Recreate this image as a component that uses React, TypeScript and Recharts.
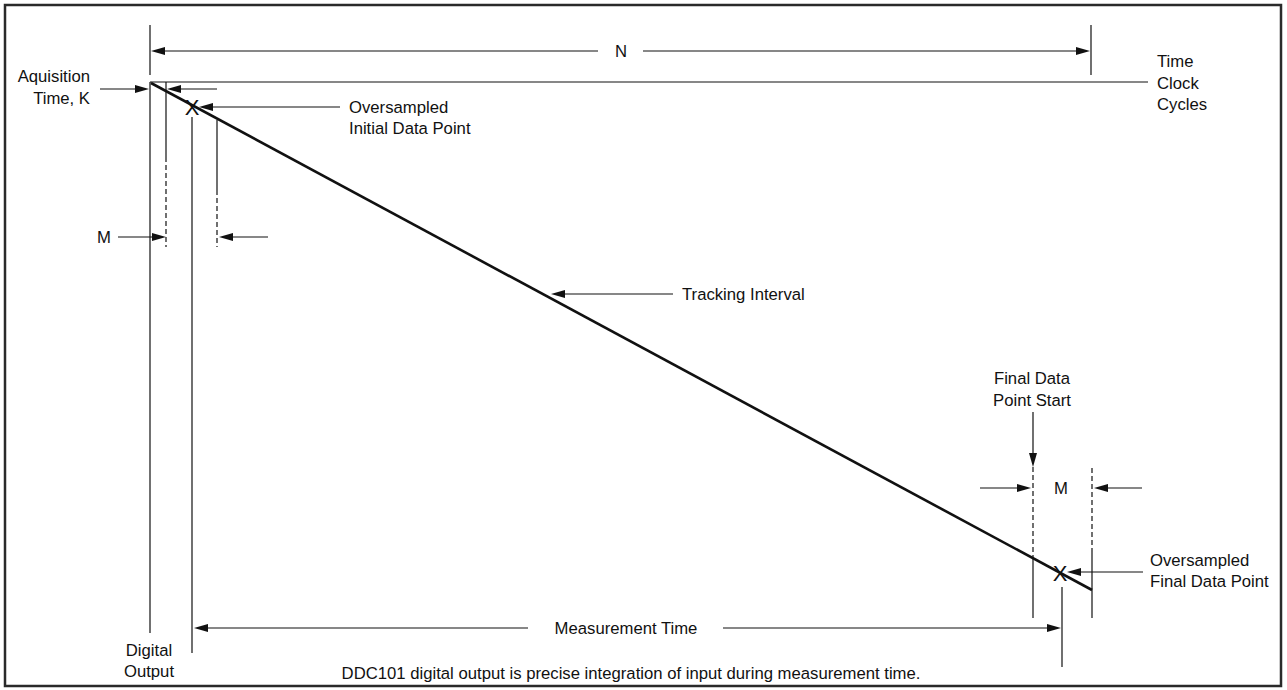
import React from 'react';
import { ComposedChart, Line, XAxis, YAxis, ReferenceLine, ReferenceDot, ReferenceArea } from 'recharts';

const W = 1287;
const H = 690;
const FONT = '"Liberation Sans", Arial, Helvetica, sans-serif';
const INK = '#111';

// outer frame of the figure
const frame = { x1: 5, x2: 1281, y1: 5, y2: 686 };

// the tracking ramp (digital output vs. time clock cycles)
const ramp = [
  { x: 151, y: 83 },
  { x: 1092, y: 590 },
];

// plain solid guide lines: [x1, y1, x2, y2]
const solidLines = [
  [150, 25, 150, 75],
  [1091, 25, 1091, 75],
  [150, 82, 1148, 82],
  [150, 82, 150, 633],
  [166, 82, 166, 157],
  [192, 117, 192, 653],
  [217, 120, 217, 190],
  [1033, 557, 1033, 618],
  [1092, 552, 1092, 618],
  [1062, 587, 1062, 667],
];

// dashed guide lines
const dashedLines = [
  [166, 157, 166, 247],
  [217, 190, 217, 247],
  [1033, 467, 1033, 557],
  [1092, 468, 1092, 552],
];

// arrows, tail -> tip
const arrows = [
  [598, 51, 151, 51],
  [643, 51, 1090, 51],
  [100, 89, 149, 89],
  [217, 89, 167, 89],
  [340, 107, 199, 107],
  [118, 237, 166, 237],
  [268, 237, 219, 237],
  [673, 294, 551, 294],
  [1033, 412, 1033, 467],
  [980, 488, 1031, 488],
  [1142, 488, 1094, 488],
  [1143, 572, 1067, 572],
  [528, 628, 194, 628],
  [723, 628, 1061, 628],
];

// oversampled data points
const samples = [
  { x: 192, y: 107 },
  { x: 1060, y: 573 },
];

const labels = [
  { t: 'N', x: 621, y: 51, a: 'middle' },
  { t: 'Aquisition', x: 90, y: 76, a: 'end' },
  { t: 'Time, K', x: 90, y: 98, a: 'end' },
  { t: 'Time', x: 1157, y: 61, a: 'start' },
  { t: 'Clock', x: 1157, y: 83, a: 'start' },
  { t: 'Cycles', x: 1157, y: 104, a: 'start' },
  { t: 'Oversampled', x: 349, y: 107, a: 'start' },
  { t: 'Initial Data Point', x: 349, y: 128, a: 'start' },
  { t: 'M', x: 104, y: 237, a: 'middle' },
  { t: 'Tracking Interval', x: 682, y: 294, a: 'start' },
  { t: 'Final Data', x: 1032, y: 378, a: 'middle' },
  { t: 'Point Start', x: 1032, y: 400, a: 'middle' },
  { t: 'M', x: 1061, y: 488, a: 'middle' },
  { t: 'Oversampled', x: 1150, y: 560, a: 'start' },
  { t: 'Final Data Point', x: 1150, y: 581, a: 'start' },
  { t: 'Measurement Time', x: 626, y: 628, a: 'middle' },
  { t: 'Digital', x: 149, y: 650, a: 'middle' },
  { t: 'Output', x: 149, y: 671, a: 'middle' },
  { t: 'DDC101 digital output is precise integration of input during measurement time.', x: 631, y: 673, a: 'middle' },
];

const ArrowShape = (p: any) => {
  const { x1, y1, x2, y2 } = p;
  const dx = x2 - x1;
  const dy = y2 - y1;
  const len = Math.hypot(dx, dy) || 1;
  const ux = dx / len;
  const uy = dy / len;
  const L = 14;
  const hw = 4;
  const bx = x2 - ux * L;
  const by = y2 - uy * L;
  const pts = `${x2},${y2} ${bx - uy * hw},${by + ux * hw} ${bx + uy * hw},${by - ux * hw}`;
  return (
    <g>
      <line x1={x1} y1={y1} x2={bx} y2={by} stroke={INK} strokeWidth={1.2} />
      <polygon points={pts} fill={INK} />
    </g>
  );
};

const seg = (s: number[]) => [
  { x: s[0], y: s[1] },
  { x: s[2], y: s[3] },
];

export default function App() {
  return (
    <div style={{ position: 'absolute', left: 0, top: 0, width: W, height: H, background: '#fff' }}>
      <ComposedChart width={W} height={H} data={ramp} margin={{ top: 0, right: 0, bottom: 0, left: 0 }} style={{ fontFamily: FONT }}>
        <XAxis dataKey="x" type="number" domain={[0, W]} hide allowDataOverflow />
        <YAxis type="number" domain={[0, H]} reversed hide allowDataOverflow />

        <ReferenceArea
          x1={frame.x1}
          x2={frame.x2}
          y1={frame.y1}
          y2={frame.y2}
          fill="none"
          fillOpacity={0}
          stroke="#2a2a2a"
          strokeWidth={2.5}
          ifOverflow="visible"
        />

        {solidLines.map((s, i) => (
          <ReferenceLine key={`s${i}`} segment={seg(s)} stroke={INK} strokeWidth={1.2} ifOverflow="visible" />
        ))}
        {dashedLines.map((s, i) => (
          <ReferenceLine key={`d${i}`} segment={seg(s)} stroke={INK} strokeWidth={1.2} strokeDasharray="5 3" ifOverflow="visible" />
        ))}
        {arrows.map((s, i) => (
          <ReferenceLine key={`a${i}`} segment={seg(s)} stroke={INK} ifOverflow="visible" shape={(p: any) => <ArrowShape {...p} />} />
        ))}

        <Line dataKey="y" stroke={INK} strokeWidth={2.6} dot={false} activeDot={false} isAnimationActive={false} />

        {samples.map((d, i) => (
          <ReferenceDot
            key={`x${i}`}
            x={d.x}
            y={d.y}
            r={0}
            ifOverflow="visible"
            shape={(p: any) => (
              <text x={p.cx} y={p.cy} dy="0.36em" textAnchor="middle" fontFamily={FONT} fontSize={22} fill={INK}>
                X
              </text>
            )}
          />
        ))}

        {labels.map((l, i) => (
          <ReferenceDot
            key={`l${i}`}
            x={l.x}
            y={l.y}
            r={0}
            ifOverflow="visible"
            shape={(p: any) => (
              <text x={p.cx} y={p.cy} dy="0.36em" textAnchor={l.a as any} fontFamily={FONT} fontSize={16.7} fill={INK}>
                {l.t}
              </text>
            )}
          />
        ))}
      </ComposedChart>
    </div>
  );
}
